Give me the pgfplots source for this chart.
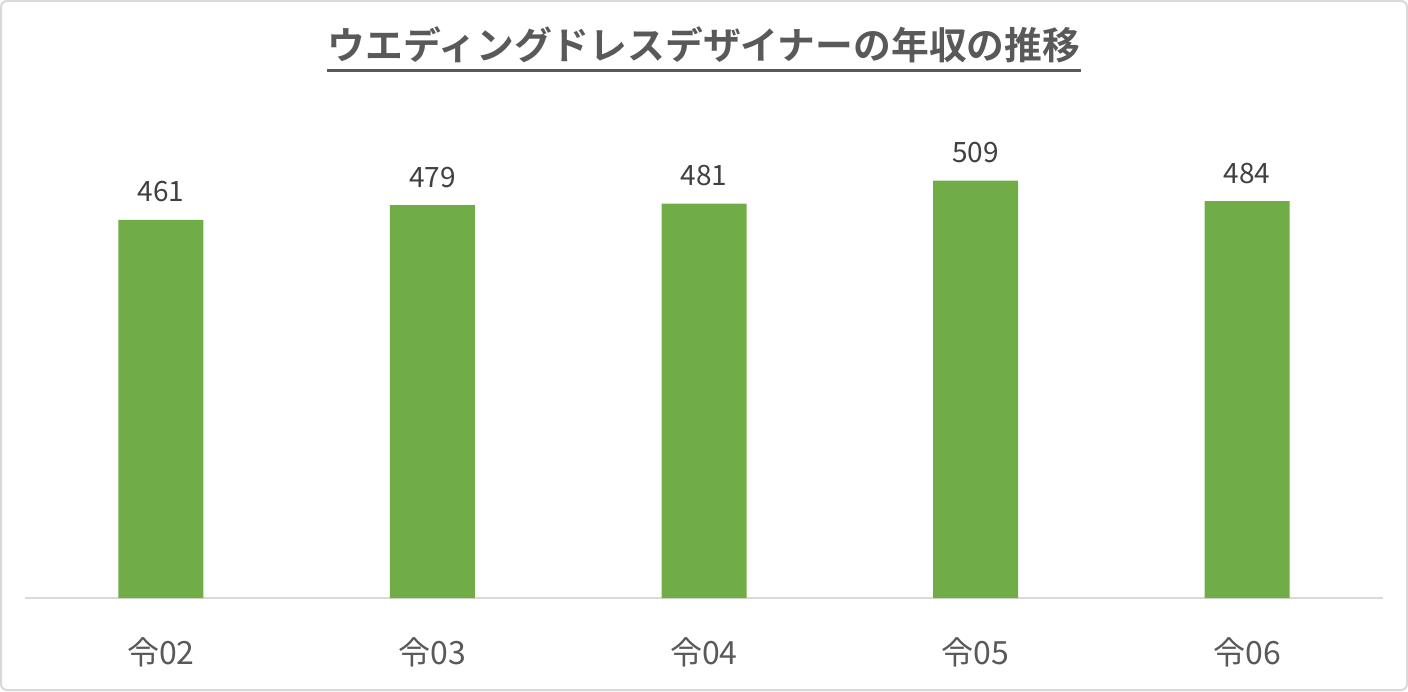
\documentclass[border=0pt]{standalone}
\usepackage{pgfplots}
\pgfplotsset{compat=1.18}
\usepackage{fontspec}
\setmainfont{Noto Sans CJK JP}
\newfontfamily\titlefont{Noto Sans CJK JP Bold}
\definecolor{bargreen}{HTML}{70AD47}
\definecolor{txtgray}{HTML}{595959}
\definecolor{lblgray}{HTML}{404040}
\definecolor{linegray}{HTML}{D9D9D9}
\begin{document}
\begin{tikzpicture}
\draw[linegray, line width=1pt, rounded corners=3pt] (0.5pt,0.5pt) rectangle (703.5pt,345pt);
\begin{axis}[
  at={(12.5pt,46.5pt)}, anchor=south west,
  scale only axis, width=679pt, height=246pt,
  ymin=0, ymax=600,
  xmin=-0.5, xmax=4.5,
  axis y line=none,
  axis x line*=bottom,
  x axis line style={linegray, line width=1pt, -},
  xtick=data,
  xticklabels={令02,令03,令04,令05,令06},
  major tick length=0pt,
  xticklabel style={font=\fontsize{16pt}{18pt}\selectfont, text=txtgray, anchor=center, yshift=-27pt},
  ybar, bar width=42.5pt,
  nodes near coords,
  /pgf/number format/assume math mode=true,
  every node near coord/.append style={font=\fontsize{14pt}{16pt}\selectfont, text=lblgray, anchor=center, yshift=14pt},
  clip=false,
]
\addplot[fill=bargreen, draw=none] coordinates {(0,461) (1,479) (2,481) (3,509) (4,484)};
\end{axis}
\node[font=\titlefont\fontsize{18.9pt}{21pt}\selectfont, text=txtgray, inner sep=0pt] (t) at (352pt,323pt) {ウエディングドレスデザイナーの年収の推移};
\draw[txtgray, line width=1.6pt] ([yshift=-3.5pt]t.south west) -- ([yshift=-3.5pt]t.south east);
\end{tikzpicture}
\end{document}
